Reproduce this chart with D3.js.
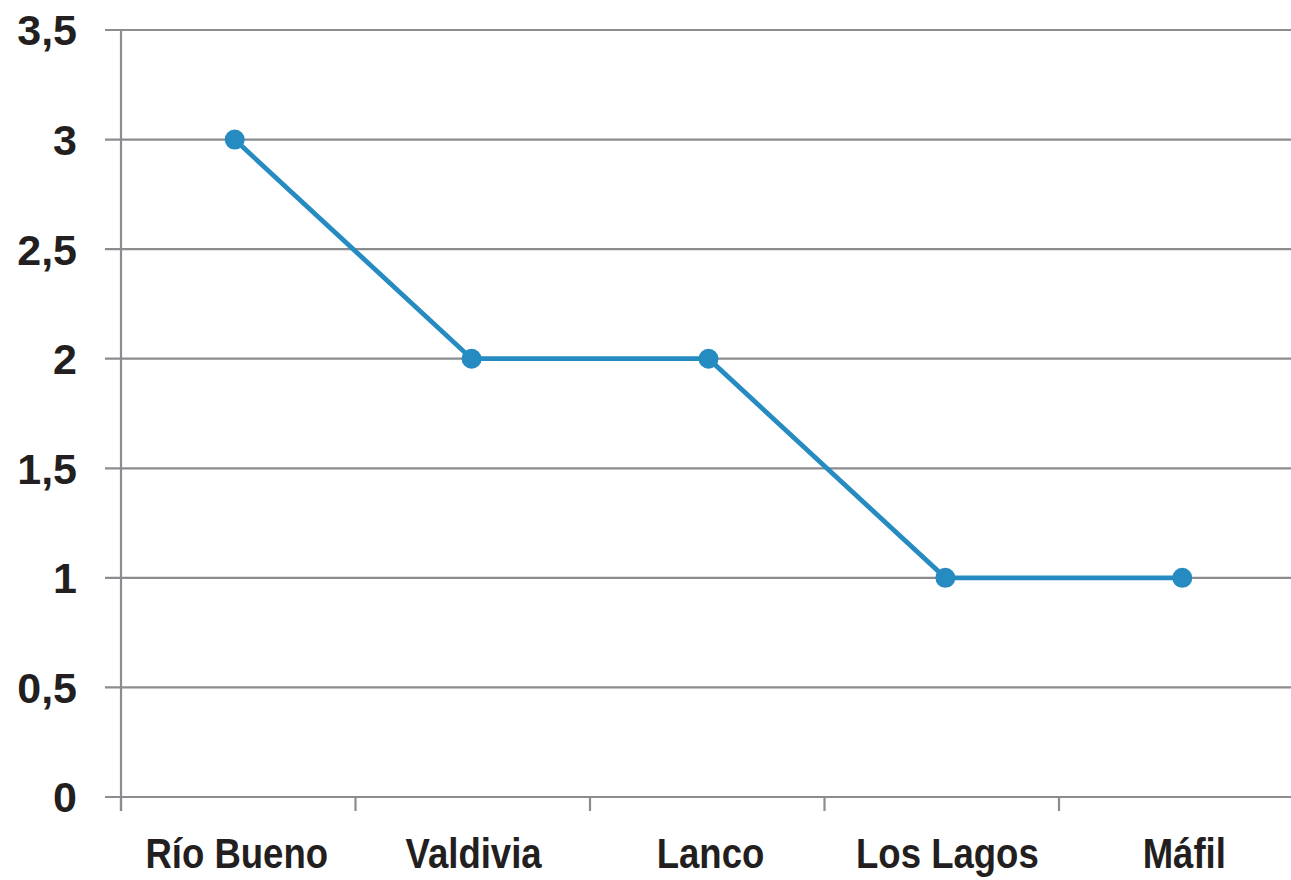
<!DOCTYPE html>
<html>
<head>
<meta charset="utf-8">
<script src="https://cdn.jsdelivr.net/npm/d3@7"></script>
<style>
  body { margin: 0; background: #fff; }
  svg { display: block; }
  .lbl { font-family: "Liberation Sans", Arial, sans-serif; font-weight: bold; fill: #231f20; }
</style>
</head>
<body>
<div id="chart"></div>
<script>
// chart data
var categories = ["Río Bueno", "Valdivia", "Lanco", "Los Lagos", "Máfil"];
var values = [3, 2, 2, 1, 1];
var yTicks = [0, 0.5, 1, 1.5, 2, 2.5, 3, 3.5];

(function() {
var W = 1291, H = 880;
var mLeft = 121, mRight = 1293.5, mTop = 30, mBottom = 797;

var svg = d3.select('#chart').append('svg')
    .attr('width', W).attr('height', H);

var y = d3.scaleLinear().domain([0, 3.5]).range([mBottom, mTop]);
var xBand = d3.scaleBand().domain(categories).range([mLeft, mRight]);
var x = d3.scalePoint().domain(categories).range([mLeft, 1296]).padding(0.48);

var grid = '#8b8c8f';
var fmt = function(d) { return String(d).replace('.', ','); };

// horizontal grid lines
svg.append('g').selectAll('line').data(yTicks).enter()
    .append('line')
    .attr('x1', 105).attr('x2', W)
    .attr('y1', function(d) { return y(d); })
    .attr('y2', function(d) { return y(d); })
    .attr('stroke', grid).attr('stroke-width', 2.2);

// y axis line
svg.append('line')
    .attr('x1', mLeft).attr('x2', mLeft)
    .attr('y1', mTop).attr('y2', mBottom + 14)
    .attr('stroke', grid).attr('stroke-width', 2.2);

// category tick marks
svg.append('g').selectAll('line').data(categories).enter()
    .append('line')
    .attr('x1', function(d) { return xBand(d); })
    .attr('x2', function(d) { return xBand(d); })
    .attr('y1', mBottom).attr('y2', mBottom + 14)
    .attr('stroke', grid).attr('stroke-width', 2.2);

// y labels
svg.append('g').selectAll('text').data(yTicks).enter()
    .append('text')
    .attr('class', 'lbl')
    .attr('x', 77)
    .attr('y', function(d) { return y(d); })
    .attr('dy', '0.36em')
    .attr('text-anchor', 'end')
    .style('font-size', '43px')
    .text(fmt);

// x labels
svg.append('g').selectAll('text').data(categories).enter()
    .append('text')
    .attr('class', 'lbl')
    .attr('transform', function(d) { return 'translate(' + (x(d) + 2) + ',868) scale(0.87,1)'; })
    .attr('text-anchor', 'middle')
    .style('font-size', '42px')
    .text(function(d) { return d; });

// series line
var line = d3.line()
    .x(function(d, i) { return x(categories[i]); })
    .y(function(d) { return y(d); });

svg.append('path')
    .datum(values)
    .attr('d', line)
    .attr('fill', 'none')
    .attr('stroke', '#258bc0')
    .attr('stroke-width', 4.8);

svg.append('g').selectAll('circle').data(values).enter()
    .append('circle')
    .attr('cx', function(d, i) { return x(categories[i]); })
    .attr('cy', function(d) { return y(d); })
    .attr('r', 10)
    .attr('fill', '#258bc0');
})();
</script>
</body>
</html>
